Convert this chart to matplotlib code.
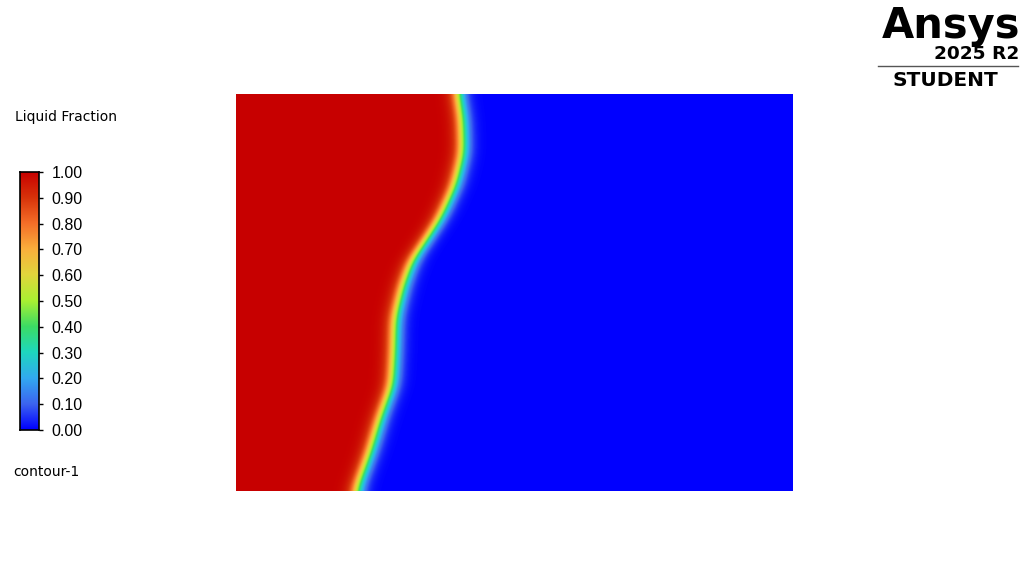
import numpy as np
import matplotlib
matplotlib.use("Agg")
import matplotlib.pyplot as plt
from matplotlib.colors import LinearSegmentedColormap

# ---- data ----
# domain size (arbitrary length units, ~ pixels of the picture)
domain_width = 557.0
domain_height = 397.0
# melting front (liquid fraction = 0.5): height from bottom -> x position
front_height = [0, 6, 39, 73, 106, 139, 173, 206, 233, 239, 273, 306, 339, 373, 397]
front_x = [120, 122, 134, 144, 156, 158, 159, 167, 177, 182, 204, 219, 227, 226, 222]
front_width = 4.3  # transition thickness

cbar_ticks = [0.00, 0.10, 0.20, 0.30, 0.40, 0.50, 0.60, 0.70, 0.80, 0.90, 1.00]
cbar_colors = ["#0000ff", "#3c64f0", "#32aaf0", "#1ed7be", "#3cdc64", "#aaf032",
               "#e1d73c", "#faaf3c", "#f56e28", "#d7320a", "#c80000"]

# ---- figure ----
W, H = 1029, 586
fig = plt.figure(figsize=(W / 100, H / 100), dpi=100)
fig.patch.set_facecolor("white")

cmap = LinearSegmentedColormap.from_list("fluent", list(zip(cbar_ticks, cbar_colors)), N=256)

# main field
ax = fig.add_axes([236 / W, (H - 491) / H, 557 / W, 397 / H])
nx, ny = 1114, 794
xs = np.linspace(0, domain_width, nx)
ys = np.linspace(0, domain_height, ny)
F1 = np.interp(ys, front_height, front_x)
# gentle smoothing of the front along its length
hw = 50
k = np.exp(-0.5 * (np.arange(-hw, hw + 1) / 16.0) ** 2)
k /= k.sum()
F1p = np.concatenate([np.full(hw, F1[0]), F1, np.full(hw, F1[-1])])
F1s = np.convolve(F1p, k, mode="valid")
X, Y = np.meshgrid(xs, ys)
F = F1s[:, None] * np.ones_like(X)
field = 1.0 / (1.0 + np.exp((X - F) / front_width))
ax.imshow(field, origin="lower", extent=[0, domain_width, 0, domain_height],
          cmap=cmap, vmin=0, vmax=1, aspect="auto", interpolation="bilinear")
ax.set_axis_off()

# colorbar
cax = fig.add_axes([20 / W, (H - 430) / H, 19 / W, 258 / H])
grad = np.linspace(0, 1, 256).reshape(-1, 1)
cax.imshow(grad, origin="lower", extent=[0, 1, 0, 1], cmap=cmap, aspect="auto")
cax.set_xticks([])
cax.yaxis.tick_right()
cax.set_yticks(cbar_ticks)
cax.set_yticklabels([f"{t:.2f}" for t in cbar_ticks], family="Liberation Sans")
cax.tick_params(axis="y", length=3, width=1, pad=6, labelsize=11.5, colors="black")
for s in cax.spines.values():
    s.set_linewidth(1.2)
    s.set_color("black")

fig.text(15 / W, 1 - 117 / H, "Liquid Fraction", fontsize=10, va="center", ha="left")
fig.text(13 / W, 1 - 472 / H, "contour-1", fontsize=10, va="center", ha="left")

# logo
fig.text(1020 / W, 1 - 38 / H, "Ansys", fontsize=30, fontweight="bold", ha="right",
         va="baseline", family="DejaVu Sans")
fig.text(1019 / W, 1 - 59 / H, "2025 R2", fontsize=13.3, fontweight="bold", ha="right",
         va="baseline", family="DejaVu Sans")
fig.add_artist(plt.Line2D([878 / W, 1018 / W], [1 - 66 / H, 1 - 66 / H], color="#555555",
                          linewidth=1.0))
fig.text(945 / W, 1 - 86 / H, "STUDENT", fontsize=14.5, fontweight="bold", ha="center",
         va="baseline", family="DejaVu Sans")

fig.savefig("out.png", dpi=100, facecolor="white")
